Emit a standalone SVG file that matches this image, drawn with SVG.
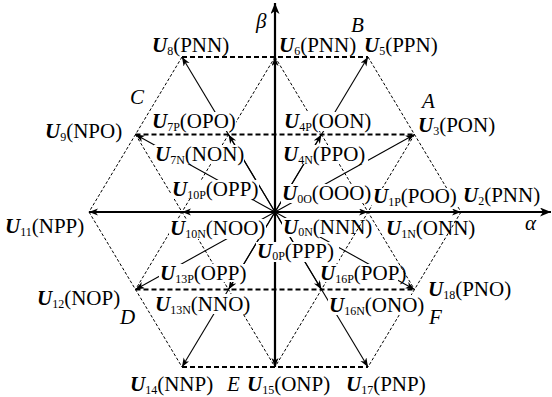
<svg xmlns="http://www.w3.org/2000/svg" width="552" height="397" viewBox="0 0 552 397">
<style>
.dd{stroke:#000;stroke-width:1;stroke-dasharray:3 2;fill:none}
.hd{stroke:#000;stroke-width:1.8;stroke-dasharray:5 3;fill:none}
.vec{stroke:#000;stroke-width:1.1;fill:none;marker-end:url(#ah)}
.ax{stroke:#000;stroke-width:2.2;fill:none;marker-end:url(#ax)}
.bg{fill:#fff}
text{font-family:"Liberation Serif","Times New Roman",serif;font-size:21px;fill:#000}
.u{font-weight:bold;font-style:italic}
.s{font-size:12px}
.i{font-style:italic}
</style>
<defs>
<marker id="ah" markerUnits="userSpaceOnUse" markerWidth="10" markerHeight="8" refX="9" refY="3.5" orient="auto">
<path d="M0,0 L9,3.5 L0,7 L2.5,3.5 Z" fill="#000"/>
</marker>
<marker id="ax" markerUnits="userSpaceOnUse" markerWidth="12" markerHeight="10" refX="11" refY="4.5" orient="auto">
<path d="M0,0 L11,4.5 L0,9 L3,4.5 Z" fill="#000"/>
</marker>
</defs>
<g id="grid">
<path class="dd" d="M368,57 L461,212 M182,57 L89,212 M89,212 L182,367 M461,212 L368,367"/>
<path class="dd" d="M275,57 L414.5,289.5 M275,57 L135.5,289.5 M414.5,134.5 L275,367 M135.5,134.5 L275,367"/>
<path class="hd" d="M182,57 H368 M135.5,134.5 H414.5 M135.5,289.5 H414.5 M182,367 H368"/>
</g>
<g id="connectors">
<line class="vec" x1="275" y1="212" x2="368" y2="212"/>
<line class="vec" x1="275" y1="212" x2="461" y2="212"/>
<line class="vec" x1="275" y1="212" x2="182" y2="212"/>
<line class="vec" x1="275" y1="212" x2="89" y2="212"/>
<line class="vec" x1="275" y1="212" x2="321.5" y2="134.5"/>
<line class="vec" x1="275" y1="212" x2="368" y2="57"/>
<line class="vec" x1="275" y1="212" x2="414.5" y2="134.5"/>
<line class="vec" x1="275" y1="212" x2="275" y2="57"/>
<line class="vec" x1="275" y1="212" x2="228.5" y2="134.5"/>
<line class="vec" x1="275" y1="212" x2="182" y2="57"/>
<line class="vec" x1="275" y1="212" x2="135.5" y2="134.5"/>
<line class="vec" x1="275" y1="212" x2="135.5" y2="289.5"/>
<line class="vec" x1="275" y1="212" x2="228.5" y2="289.5"/>
<line class="vec" x1="275" y1="212" x2="182" y2="367"/>
<line class="vec" x1="275" y1="212" x2="275" y2="367"/>
<line class="vec" x1="275" y1="212" x2="321.5" y2="289.5"/>
<line class="vec" x1="275" y1="212" x2="368" y2="367"/>
<line class="vec" x1="275" y1="212" x2="414.5" y2="289.5"/>
<line class="ax" x1="89" y1="212" x2="551" y2="212"/>
<line class="ax" x1="275" y1="367" x2="275" y2="3"/>
</g>
<g id="axis-labels">
<text class="i" x="256" y="28">β</text>
<text class="i" x="525" y="230">α</text>
<text class="i" x="351" y="32">B</text>
<text class="i" x="422" y="108">A</text>
<text class="i" x="130" y="104">C</text>
<text class="i" x="120" y="324">D</text>
<text class="i" x="227" y="391">E</text>
<text class="i" x="429" y="324">F</text>
</g>
<g id="U8"><text x="152" y="52"><tspan class="u">U</tspan><tspan class="s" dy="3">8</tspan><tspan dy="-3">(PNN)</tspan></text></g>
<g id="U6"><text x="279" y="52"><tspan class="u">U</tspan><tspan class="s" dy="3">6</tspan><tspan dy="-3">(PNN)</tspan></text></g>
<g id="U5"><text x="364" y="52"><tspan class="u">U</tspan><tspan class="s" dy="3">5</tspan><tspan dy="-3">(PPN)</tspan></text></g>
<g id="U7P"><rect class="bg" x="151" y="112" width="85" height="19"/><text x="152" y="128"><tspan class="u">U</tspan><tspan class="s" dy="3">7P</tspan><tspan dy="-3">(OPO)</tspan></text></g>
<g id="U4P"><rect class="bg" x="283" y="112" width="89" height="19"/><text x="284" y="128"><tspan class="u">U</tspan><tspan class="s" dy="3">4P</tspan><tspan dy="-3">(OON)</tspan></text></g>
<g id="U9"><text x="45" y="138"><tspan class="u">U</tspan><tspan class="s" dy="3">9</tspan><tspan dy="-3">(NPO)</tspan></text></g>
<g id="U3"><text x="418" y="132"><tspan class="u">U</tspan><tspan class="s" dy="3">3</tspan><tspan dy="-3">(PON)</tspan></text></g>
<g id="U7N"><rect class="bg" x="154" y="145" width="90" height="19"/><text x="155" y="161"><tspan class="u">U</tspan><tspan class="s" dy="3">7N</tspan><tspan dy="-3">(NON)</tspan></text></g>
<g id="U4N"><rect class="bg" x="282" y="145" width="86" height="19"/><text x="283" y="161"><tspan class="u">U</tspan><tspan class="s" dy="3">4N</tspan><tspan dy="-3">(PPO)</tspan></text></g>
<g id="U10P"><rect class="bg" x="171" y="180" width="88" height="19"/><text x="172" y="196"><tspan class="u">U</tspan><tspan class="s" dy="3">10P</tspan><tspan dy="-3">(OPP)</tspan></text></g>
<g id="U0O"><rect class="bg" x="281" y="184" width="92" height="19"/><text x="282" y="200"><tspan class="u">U</tspan><tspan class="s" dy="3">0O</tspan><tspan dy="-3">(OOO)</tspan></text></g>
<g id="U1P"><rect class="bg" x="372" y="188" width="87" height="18"/><text x="373" y="203"><tspan class="u">U</tspan><tspan class="s" dy="3">1P</tspan><tspan dy="-3">(POO)</tspan></text></g>
<g id="U2"><text x="463" y="202"><tspan class="u">U</tspan><tspan class="s" dy="3">2</tspan><tspan dy="-3">(PNN)</tspan></text></g>
<g id="U11"><text x="5" y="233"><tspan class="u">U</tspan><tspan class="s" dy="3">11</tspan><tspan dy="-3">(NPP)</tspan></text></g>
<g id="U10N"><rect class="bg" x="169" y="219" width="97" height="20"/><text x="170" y="235"><tspan class="u">U</tspan><tspan class="s" dy="3">10N</tspan><tspan dy="-3">(NOO)</tspan></text></g>
<g id="U0N"><rect class="bg" x="282" y="218" width="67" height="19"/><text x="283" y="234"><tspan class="u">U</tspan><tspan class="s" dy="2">0N</tspan><tspan dy="-2">(NNN)</tspan></text></g>
<g id="U1N"><text x="386" y="235"><tspan class="u">U</tspan><tspan class="s" dy="3">1N</tspan><tspan dy="-3">(ONN)</tspan></text></g>
<g id="U0P"><rect class="bg" x="256" y="242" width="83" height="20"/><text x="257" y="258"><tspan class="u">U</tspan><tspan class="s" dy="2">0P</tspan><tspan dy="-2">(PPP)</tspan></text></g>
<g id="U13P"><rect class="bg" x="159" y="264" width="89" height="18"/><text x="160" y="280"><tspan class="u">U</tspan><tspan class="s" dy="3">13P</tspan><tspan dy="-3">(OPP)</tspan></text></g>
<g id="U16P"><rect class="bg" x="320" y="264" width="78" height="18"/><text x="320" y="280"><tspan class="u">U</tspan><tspan class="s" dy="3">16P</tspan><tspan dy="-3">(POP)</tspan></text></g>
<g id="U12"><text x="37" y="305"><tspan class="u">U</tspan><tspan class="s" dy="3">12</tspan><tspan dy="-3">(NOP)</tspan></text></g>
<g id="U13N"><rect class="bg" x="154" y="294" width="95" height="20"/><text x="155" y="311"><tspan class="u">U</tspan><tspan class="s" dy="3">13N</tspan><tspan dy="-3">(NNO)</tspan></text></g>
<g id="U16N"><rect class="bg" x="328" y="295" width="96" height="20"/><text x="329" y="312"><tspan class="u">U</tspan><tspan class="s" dy="3">16N</tspan><tspan dy="-3">(ONO)</tspan></text></g>
<g id="U18"><text x="428" y="296"><tspan class="u">U</tspan><tspan class="s" dy="3">18</tspan><tspan dy="-3">(PNO)</tspan></text></g>
<g id="U14"><text x="130" y="391"><tspan class="u">U</tspan><tspan class="s" dy="3">14</tspan><tspan dy="-3">(NNP)</tspan></text></g>
<g id="U15"><text x="247" y="391"><tspan class="u">U</tspan><tspan class="s" dy="3">15</tspan><tspan dy="-3">(ONP)</tspan></text></g>
<g id="U17"><text x="346" y="391"><tspan class="u">U</tspan><tspan class="s" dy="3">17</tspan><tspan dy="-3">(PNP)</tspan></text></g>
</svg>
